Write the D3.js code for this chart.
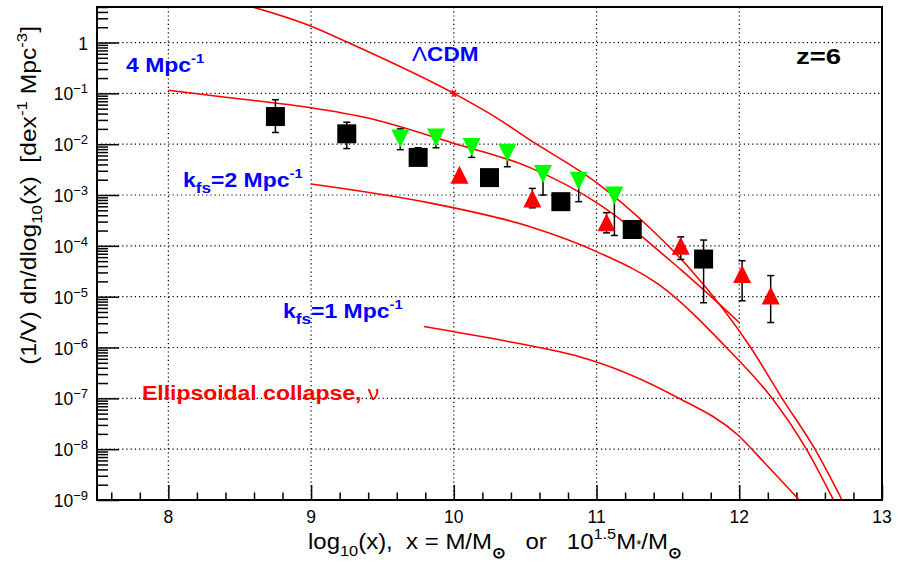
<!DOCTYPE html>
<html>
<head>
<meta charset="utf-8">
<script src="https://cdn.jsdelivr.net/npm/d3@7"></script>
<style>
  body { margin: 0; background: #fff; }
  svg { font-family: "Liberation Sans", Arial, sans-serif; }
</style>
</head>
<body>
<svg id="chart" width="903" height="564"></svg>
<script>
// axis ticks
const xMajor = [8, 9, 10, 11, 12, 13];
const yMajorExp = [0, -1, -2, -3, -4, -5, -6, -7, -8, -9];

// model curves
const lcdmX = [8.57, 9.0, 9.26, 10.0, 10.3, 10.53, 11.0, 11.37, 11.66, 12.08, 12.3, 12.53, 12.72];
const lcdmY = [5.2, 2.1, 1.0, 0.1, 3.3e-2, 1.23e-2, 1.75e-3, 2.3e-4, 3.4e-5, 1e-6, 1e-7, 1e-8, 1e-9];
const k4X = [8.0, 8.43, 9.0, 9.39, 9.99, 10.53, 11.0, 11.59, 12.0];
const k4Y = [0.115, 8.2e-2, 5.2e-2, 3.3e-2, 1.06e-2, 3.5e-3, 7.1e-4, 3.4e-5, 3.1e-6];
const k2X = [9.0, 9.83, 10.53, 11.0, 11.44, 11.91, 12.23, 12.47, 12.66];
const k2Y = [1.65e-3, 7.0e-4, 2.4e-4, 7.7e-5, 1.7e-5, 1e-6, 1e-7, 1e-8, 1e-9];
const k1X = [9.79, 10.32, 10.67, 10.88, 11.55, 11.99, 12.18, 12.42];
const k1Y = [2.6e-6, 1.42e-6, 9.1e-7, 6.6e-7, 1.1e-7, 1.9e-8, 5.3e-9, 1e-9];
const starX = [10.0];
const starY = [0.1];

// black squares
const sqX = [8.75, 9.25, 9.75, 10.25, 10.75, 11.25, 11.75];
const sqY = [3.5e-2, 1.6e-2, 5.5e-3, 2.2e-3, 7.4e-4, 2.1e-4, 5.5e-5];
const sqLo = [1.7e-2, 8.2e-3, 4.3e-3, 1.8e-3, 6.0e-4, 1.7e-4, 7.6e-6];
const sqHi = [7.5e-2, 2.7e-2, 8.5e-3, 2.7e-3, 9.0e-4, 2.6e-4, 1.3e-4];

// green down triangles
const dnX = [9.625, 9.875, 10.125, 10.375, 10.625, 10.875, 11.125];
const dnY = [1.29e-2, 1.35e-2, 8.8e-3, 6.8e-3, 2.6e-3, 1.9e-3, 9.8e-4];
const dnLo = [7.8e-3, 8.5e-3, 5.5e-3, 3.6e-3, 1.0e-3, 7.4e-4, 1.6e-4];
const dnHi = [2.0e-2, 1.9e-2, 8.8e-3, 6.8e-3, 2.6e-3, 1.9e-3, 9.8e-4];

// red up triangles
const upX = [10.04, 10.55, 11.07, 11.59, 12.02, 12.22];
const upY = [2.5e-3, 8.5e-4, 2.9e-4, 1.0e-4, 2.8e-5, 1.05e-5];
const upLo = [2.5e-3, 5.6e-4, 1.8e-4, 5.4e-5, 8.3e-6, 3.1e-6];
const upHi = [2.5e-3, 1.35e-3, 4.5e-4, 1.5e-4, 5.1e-5, 2.6e-5];

const svg = d3.select('#chart');
const pLeft = 97, pRight = 882, pTop = 7, pBottom = 500;

const x = d3.scaleLinear().domain([7.5, 13]).range([pLeft, pRight]);
const y = d3.scaleLog().domain([1e-9, 5]).range([pBottom, pTop]);

svg.append('defs').append('clipPath').attr('id', 'clip')
  .append('rect').attr('x', pLeft).attr('y', pTop)
  .attr('width', pRight - pLeft).attr('height', pBottom - pTop);

// grid
const grid = svg.append('g')
  .attr('stroke', '#000')
  .attr('stroke-width', 1.2)
  .attr('stroke-dasharray', '1.2,3');
grid.selectAll('.gx')
  .data(xMajor.filter(v => v < 13))
  .join('line')
  .attr('class', 'gx')
  .attr('x1', d => x(d)).attr('x2', d => x(d))
  .attr('y1', pTop).attr('y2', pBottom);
grid.selectAll('.gy')
  .data(yMajorExp.filter(e => e > -9).map(e => Math.pow(10, e)))
  .join('line')
  .attr('class', 'gy')
  .attr('x1', pLeft).attr('x2', pRight)
  .attr('y1', d => y(d)).attr('y2', d => y(d));

// ticks (inward, ROOT style)
const xMinor = d3.range(7.6, 13, 0.2).filter(v => Math.abs(v - Math.round(v)) > 0.01);
const yMinor = [];
for (let e = -9; e <= 0; e++) {
  for (let m = 2; m <= 9; m++) {
    const v = m * Math.pow(10, e);
    if (v <= 5) yMinor.push(v);
  }
}

const axisX = svg.append('g').attr('transform', `translate(0,${pBottom})`);
axisX.call(d3.axisBottom(x).tickValues(xMinor).tickSize(-7.5).tickFormat(''));
axisX.append('g').call(d3.axisBottom(x).tickValues(xMajor).tickSize(-15).tickFormat(''));
axisX.selectAll('.domain').remove();
axisX.selectAll('line').attr('stroke', '#000').attr('stroke-width', 1.5);

const axisY = svg.append('g').attr('transform', `translate(${pLeft},0)`);
axisY.call(d3.axisLeft(y).tickValues(yMinor).tickSize(-11).tickFormat(''));
axisY.append('g').call(d3.axisLeft(y).tickValues(yMajorExp.map(e => Math.pow(10, e))).tickSize(-22).tickFormat(''));
axisY.selectAll('.domain').remove();
axisY.selectAll('line').attr('stroke', '#000').attr('stroke-width', 1.5);

// tick labels
svg.append('g')
  .attr('font-size', 17.5)
  .attr('text-anchor', 'middle')
  .selectAll('text')
  .data(xMajor)
  .join('text')
  .attr('x', d => x(d))
  .attr('y', pBottom + 23)
  .text(d => d);

const yl = svg.append('g').attr('font-size', 17.5).attr('text-anchor', 'end');
yMajorExp.forEach(e => {
  const t = yl.append('text').attr('x', pLeft - 9).attr('y', y(Math.pow(10, e)) + 7);
  if (e === 0) {
    t.text('1');
  } else {
    t.append('tspan').text('10');
    t.append('tspan').attr('dy', -7).attr('font-size', 13).text('\u2212' + (-e));
  }
});

// curves
const line = d3.line()
  .x(d => x(d[0]))
  .y(d => y(d[1]))
  .curve(d3.curveMonotoneX);

const curves = [
  d3.zip(lcdmX, lcdmY),
  d3.zip(k4X, k4Y),
  d3.zip(k2X, k2Y),
  d3.zip(k1X, k1Y)
];
svg.append('g')
  .attr('clip-path', 'url(#clip)')
  .selectAll('path')
  .data(curves)
  .join('path')
  .attr('d', line)
  .attr('fill', 'none')
  .attr('stroke', '#ff0000')
  .attr('stroke-width', 1.6);

// star marker on the LCDM curve
svg.append('g')
  .selectAll('path')
  .data(d3.zip(starX, starY))
  .join('path')
  .attr('transform', d => `translate(${x(d[0])},${y(d[1])})`)
  .attr('d', 'M-4,0H4M-2,-3.5L2,3.5M2,-3.5L-2,3.5')
  .attr('stroke', '#ff0000')
  .attr('stroke-width', 1.3);

// error bars
function errorBars(xs, ys, lo, hi) {
  const g = svg.append('g').attr('stroke', '#000').attr('stroke-width', 1.5);
  xs.forEach((xv, i) => {
    if (lo[i] === hi[i]) return;
    const px = x(xv);
    g.append('line').attr('x1', px).attr('x2', px).attr('y1', y(lo[i])).attr('y2', y(hi[i]));
    g.append('line').attr('x1', px - 3.5).attr('x2', px + 3.5).attr('y1', y(lo[i])).attr('y2', y(lo[i]));
    g.append('line').attr('x1', px - 3.5).attr('x2', px + 3.5).attr('y1', y(hi[i])).attr('y2', y(hi[i]));
  });
}
errorBars(sqX, sqY, sqLo, sqHi);
errorBars(dnX, dnY, dnLo, dnHi);
errorBars(upX, upY, upLo, upHi);

// markers
const ms = 19;
svg.append('g')
  .selectAll('rect')
  .data(d3.zip(sqX, sqY))
  .join('rect')
  .attr('x', d => x(d[0]) - ms / 2)
  .attr('y', d => y(d[1]) - ms / 2)
  .attr('width', ms).attr('height', ms)
  .attr('fill', '#000');

const ts = 18;
svg.append('g')
  .selectAll('path')
  .data(d3.zip(dnX, dnY))
  .join('path')
  .attr('transform', d => `translate(${x(d[0])},${y(d[1])})`)
  .attr('d', `M${-ts / 2},${-ts / 2}H${ts / 2}L0,${ts / 2}Z`)
  .attr('fill', '#00ff00');

svg.append('g')
  .selectAll('path')
  .data(d3.zip(upX, upY))
  .join('path')
  .attr('transform', d => `translate(${x(d[0])},${y(d[1])})`)
  .attr('d', `M${-ts / 2},${ts / 2}H${ts / 2}L0,${-ts / 2}Z`)
  .attr('fill', '#ff0000');

// frame
svg.append('rect')
  .attr('x', pLeft).attr('y', pTop)
  .attr('width', pRight - pLeft).attr('height', pBottom - pTop)
  .attr('fill', 'none').attr('stroke', '#000').attr('stroke-width', 2);

// labels inside the plot (ROOT text is a bit wider than Liberation, so stretch it)
function label(px, py, color, size, sx, parts) {
  const t = svg.append('text')
    .attr('transform', `translate(${px},${py}) scale(${sx},1)`)
    .attr('fill', color)
    .attr('font-size', size)
    .attr('font-weight', 'bold');
  parts.forEach(p => {
    const s = t.append('tspan').text(p.t);
    if (p.sup) s.attr('dy', -size * 0.42).attr('font-size', size * 0.65);
    if (p.sub) s.attr('dy', size * 0.3).attr('font-size', size * 0.75);
    if (p.back) s.attr('dy', -size * 0.3);
    if (p.thin) s.attr('font-weight', 'normal');
  });
}
label(126, 72, '#0000ff', 20.5, 1.12, [{ t: '4 Mpc' }, { t: '-1', sup: true }]);
label(412, 61, '#0000ff', 20, 1.13, [{ t: '\u039b', thin: true }, { t: 'CDM' }]);
label(796, 64, '#000', 21.5, 1.28, [{ t: 'z=6' }]);
label(183, 187, '#0000ff', 20.5, 1.12, [{ t: 'k' }, { t: 'fs', sub: true }, { t: '=2 Mpc', back: true }, { t: '-1', sup: true }]);
label(283, 318, '#0000ff', 20.5, 1.12, [{ t: 'k' }, { t: 'fs', sub: true }, { t: '=1 Mpc', back: true }, { t: '-1', sup: true }]);
label(142, 400, '#ff0000', 20.5, 1.12, [{ t: 'Ellipsoidal collapse, ' }, { t: '\u03bd', thin: true }]);

// axis titles
const yt = svg.append('text')
  .attr('transform', 'translate(36,26) rotate(-90) scale(1.12,1)')
  .attr('text-anchor', 'end')
  .attr('font-size', 22)
  .attr('xml:space', 'preserve');
yt.append('tspan').text('(1/V) dn/dlog');
yt.append('tspan').attr('dy', 6).attr('font-size', 15).text('10');
yt.append('tspan').attr('dy', -6).text('(x)  [dex');
yt.append('tspan').attr('dy', -9).attr('font-size', 15).text('-1');
yt.append('tspan').attr('dy', 9).text(' Mpc');
yt.append('tspan').attr('dy', -9).attr('font-size', 15).text('-3');
yt.append('tspan').attr('dy', 9).text(']');

const xt = svg.append('text')
  .attr('transform', 'translate(308,549) scale(1.09,1)')
  .attr('font-size', 22)
  .attr('xml:space', 'preserve');
xt.append('tspan').text('log');
xt.append('tspan').attr('dy', 7).attr('font-size', 15).text('10');
xt.append('tspan').attr('dy', -7).text('(x),  x = M/M');
xt.append('tspan').attr('dy', 9).attr('font-size', 15).attr('font-weight', 'bold').text('\u2299');
xt.append('tspan').attr('dy', -9).text('   or   10');
xt.append('tspan').attr('dy', -10).attr('font-size', 15).text('1.5');
xt.append('tspan').attr('dy', 10).text('M');
xt.append('tspan').attr('font-size', 12).text('*');
xt.append('tspan').text('/M');
xt.append('tspan').attr('dy', 9).attr('font-size', 15).attr('font-weight', 'bold').text('\u2299');
</script>
</body>
</html>
